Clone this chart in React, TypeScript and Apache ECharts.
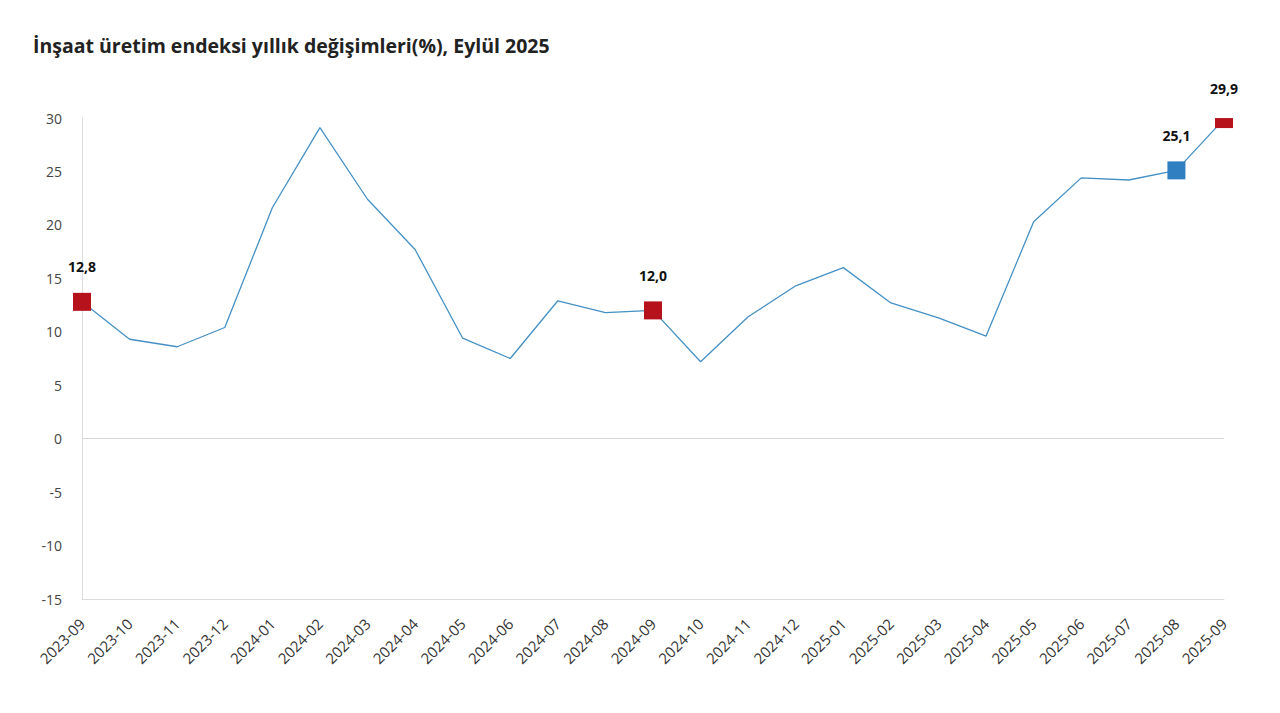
import React, { useEffect, useRef } from "react";
import * as echarts from "echarts";

const categories = [
  "2023-09", "2023-10", "2023-11", "2023-12", "2024-01", "2024-02", "2024-03",
  "2024-04", "2024-05", "2024-06", "2024-07", "2024-08", "2024-09", "2024-10",
  "2024-11", "2024-12", "2025-01", "2025-02", "2025-03", "2025-04", "2025-05",
  "2025-06", "2025-07", "2025-08", "2025-09",
];
const values = [
  12.8, 9.3, 8.6, 10.4, 21.6, 29.1, 22.4, 17.7, 9.4, 7.5, 12.9, 11.8, 12.0,
  7.2, 11.4, 14.3, 16.0, 12.7, 11.3, 9.6, 20.3, 24.4, 24.2, 25.1, 29.9,
];
const redMarked = ["2023-09", "2024-09", "2025-09"];
const blueMarked = ["2025-08"];
const yTicks = { min: -15, max: 30, interval: 5 };
const titleText = "İnşaat üretim endeksi yıllık değişimleri(%), Eylül 2025";

const RED = "#b5121b";
const BLUE = "#2f7fc1";
const LINE = "#4590c4";
const FONT = "Open Sans, Noto Sans, sans-serif";

export default function App() {
  const ref = useRef<HTMLDivElement>(null);
  useEffect(() => {
    if (!ref.current) return;
    const chart = echarts.init(ref.current, undefined, { renderer: "svg" });
    const lastIdx = categories.length - 1;
    const data = values.map((v, i) => {
      const cat = categories[i];
      const isRed = redMarked.includes(cat);
      const isBlue = blueMarked.includes(cat);
      if (!isRed && !isBlue) {
        return { value: v, symbol: "none", symbolSize: 0 };
      }
      const clipped = i === lastIdx;
      return {
        value: v,
        symbol: "rect",
        symbolSize: clipped ? [18, 10] : 18,
        symbolOffset: clipped ? [0, 4] : [0, 0],
        itemStyle: { color: isRed ? RED : BLUE },
        label: {
          show: true,
          position: "top",
          distance: clipped ? 23 : 19,
          formatter: v.toFixed(1).replace(".", ","),
          color: "#111",
          fontWeight: "bold",
          fontSize: 14,
          fontFamily: FONT,
        },
      };
    });
    chart.setOption({
      animation: false,
      title: {
        text: titleText,
        left: 28,
        top: 30,
        textStyle: {
          fontSize: 19.5,
          fontWeight: "bold",
          color: "#222",
          fontFamily: FONT,
        },
      },
      grid: { left: 82, right: 56, top: 118, bottom: 114, containLabel: false },
      xAxis: {
        type: "category",
        data: categories,
        boundaryGap: false,
        axisLine: { onZero: false, lineStyle: { color: "#dcdcdc" } },
        axisTick: { show: false },
        axisLabel: {
          rotate: 45,
          interval: 0,
          color: "#333",
          fontSize: 15,
          margin: 22,
          fontFamily: FONT,
        },
        splitLine: { show: false },
      },
      yAxis: {
        type: "value",
        min: yTicks.min,
        max: yTicks.max,
        interval: yTicks.interval,
        axisLine: { show: true, lineStyle: { color: "#dcdcdc" } },
        axisTick: { show: false },
        splitLine: { show: false },
        axisLabel: {
          color: "#444",
          fontSize: 14,
          margin: 20,
          fontFamily: FONT,
        },
      },
      series: [
        {
          type: "line",
          data,
          clip: false,
          lineStyle: { color: LINE, width: 1.3 },
          itemStyle: { color: LINE },
          showAllSymbol: true,
          markLine: {
            silent: true,
            symbol: "none",
            label: { show: false },
            lineStyle: { color: "#d8d8d8", type: "solid", width: 1 },
            data: [{ yAxis: 0 }],
          },
        },
      ],
    });
    return () => chart.dispose();
  }, []);
  return (
    <div
      ref={ref}
      style={{ position: "absolute", left: 0, top: 0, width: 1280, height: 713, background: "#fff" }}
    />
  );
}
